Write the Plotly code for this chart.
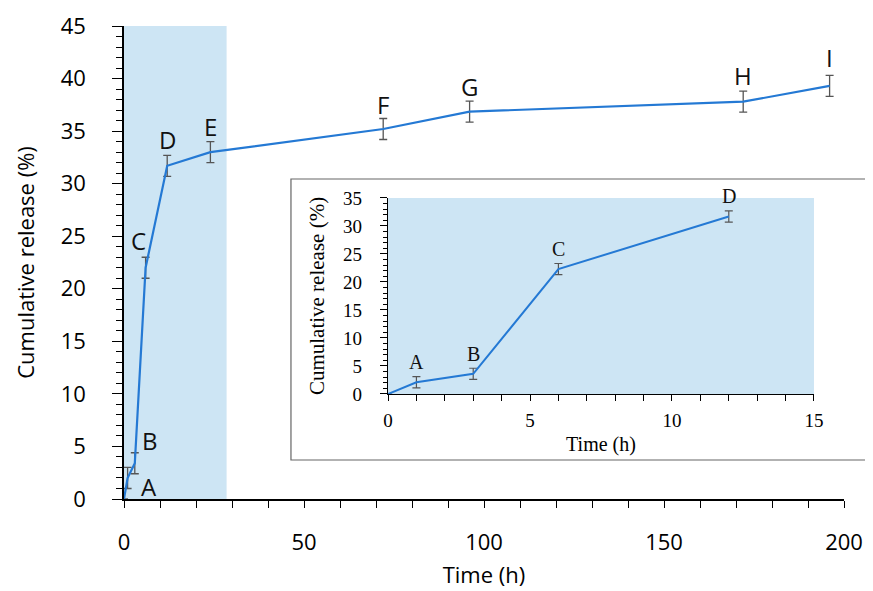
import plotly.graph_objects as go

# ---- main series ----
time_h = [0, 1, 3, 6, 12, 24, 72, 96, 172, 196]
release = [0, 2.0, 3.4, 22.0, 31.7, 33.0, 35.2, 36.85, 37.8, 39.3]
release_err = [None, 1.0, 1.0, 1.0, 1.0, 1.0, 1.0, 1.0, 1.0, 1.0]
point_labels = ["", "A", "B", "C", "D", "E", "F", "G", "H", "I"]

# ---- inset series ----
inset_time = [0, 1, 3, 6, 12]
inset_release = [0, 2.1, 3.6, 22.3, 31.7]
inset_err = [None, 1.0, 1.0, 1.0, 1.0]
inset_labels = ["", "A", "B", "C", "D"]

main_x_ticks = [0, 50, 100, 150, 200]
main_y_ticks = [0, 5, 10, 15, 20, 25, 30, 35, 40, 45]
inset_x_ticks = [0, 5, 10, 15]
inset_y_ticks = [0, 5, 10, 15, 20, 25, 30, 35]
shade_main_end = 28.5

LINE = "#2479d4"
SHADE = "#cde5f4"
ERR = "#555555"
SANS = "Open Sans"
SERIF = "Liberation Serif, Times New Roman, serif"

fig = go.Figure()

fig.add_trace(go.Scatter(
    x=time_h, y=release, mode="lines",
    line=dict(color=LINE, width=2.2),
    error_y=dict(type="data", array=release_err, visible=True,
                 color=ERR, thickness=1.3, width=4),
    xaxis="x", yaxis="y", showlegend=False, hoverinfo="x+y"))

fig.add_trace(go.Scatter(
    x=inset_time, y=inset_release, mode="lines",
    line=dict(color=LINE, width=2.0),
    error_y=dict(type="data", array=inset_err, visible=True,
                 color=ERR, thickness=1.2, width=4),
    xaxis="x2", yaxis="y2", showlegend=False, hoverinfo="x+y"))

# label offsets (pixels) for the main chart
main_shift = {"A": (21, -9), "B": (15, 23), "C": (-7, 27), "D": (0, 26),
              "E": (0, 26), "F": (0, 25), "G": (0, 25), "H": (0, 26), "I": (0, 28)}
annotations = []
for xv, yv, lab in zip(time_h, release, point_labels):
    if not lab:
        continue
    dx, dy = main_shift[lab]
    annotations.append(dict(x=xv, y=yv, xref="x", yref="y", text=lab,
                            showarrow=False, xshift=dx, yshift=dy,
                            xanchor="center", yanchor="middle",
                            font=dict(family=SANS, size=24, color="#111111")))
for xv, yv, lab in zip(inset_time, inset_release, inset_labels):
    if not lab:
        continue
    annotations.append(dict(x=xv, y=yv, xref="x2", yref="y2", text=lab,
                            showarrow=False, yshift=20,
                            xanchor="center", yanchor="middle",
                            font=dict(family=SERIF, size=20, color="#111111")))

shapes = [
    # inset frame (white box)
    dict(type="rect", xref="paper", yref="paper",
         x0=0.2319, x1=1.0375, y0=0.0825, y1=0.6765,
         fillcolor="white", line=dict(color="#666666", width=1.2), layer="below"),
    # main shaded window
    dict(type="rect", xref="x", yref="y", x0=0, x1=shade_main_end, y0=0, y1=45,
         fillcolor=SHADE, line=dict(width=0), layer="below"),
    # inset shaded area
    dict(type="rect", xref="x2", yref="y2", x0=0, x1=15, y0=0, y1=35,
         fillcolor=SHADE, line=dict(width=0), layer="below"),
]

fig.update_layout(
    width=865, height=583,
    margin=dict(l=116, r=29, t=18, b=92),
    paper_bgcolor="white", plot_bgcolor="rgba(0,0,0,0)",
    annotations=annotations, shapes=shapes,
    xaxis=dict(range=[0, 200], tickvals=main_x_ticks, ticks="outside", ticklen=7,
               tickwidth=1.3, tickcolor="black", automargin=False,
               minor=dict(dtick=10, ticks="outside", ticklen=7, tickcolor="black", tickwidth=1.3),
               showline=True, linecolor="black", linewidth=1.5,
               showgrid=False, zeroline=False, ticklabelstandoff=16,
               tickfont=dict(family=SANS, size=22, color="black"),
               title=dict(text="Time (h)", font=dict(family=SANS, size=22, color="black"),
                          standoff=12),
               domain=[0, 1], anchor="y"),
    yaxis=dict(range=[0, 45], tickvals=main_y_ticks, ticks="outside", ticklen=10,
               tickwidth=1.3, tickcolor="black", automargin=False,
               minor=dict(dtick=1, ticks="outside", ticklen=6, tickcolor="black", tickwidth=1.3),
               showline=True, linecolor="black", linewidth=1.5,
               showgrid=False, zeroline=False, ticklabelstandoff=22,
               tickfont=dict(family=SANS, size=22, color="black"),
               title=dict(text="Cumulative release (%)",
                          font=dict(family=SANS, size=22, color="black"), standoff=20),
               domain=[0, 1], anchor="x"),
    xaxis2=dict(range=[0, 15], tickvals=inset_x_ticks, ticks="outside", ticklen=6,
                tickcolor="black", tickwidth=1.2, automargin=False,
                minor=dict(dtick=1, ticks="outside", ticklen=6, tickcolor="black", tickwidth=1.2),
                showline=True, linecolor="black", linewidth=1.3,
                showgrid=False, zeroline=False, ticklabelstandoff=3,
                tickfont=dict(family=SERIF, size=19, color="black"),
                title=dict(text="Time (h)", font=dict(family=SERIF, size=20, color="black"),
                           standoff=7),
                domain=[0.3667, 0.9583], anchor="y2"),
    yaxis2=dict(range=[0, 35], tickvals=inset_y_ticks, ticks="outside", ticklen=7,
                tickcolor="black", tickwidth=1.2, automargin=False,
                minor=dict(dtick=1, ticks="outside", ticklen=4, tickcolor="black", tickwidth=1.0),
                showline=True, linecolor="black", linewidth=1.3,
                showgrid=False, zeroline=False, ticklabelstandoff=14,
                tickfont=dict(family=SERIF, size=19, color="black"),
                title=dict(text="Cumulative release (%)",
                           font=dict(family=SERIF, size=21, color="black"), standoff=12),
                domain=[0.222, 0.6364], anchor="x2"),
)

fig.write_html("out.html")
